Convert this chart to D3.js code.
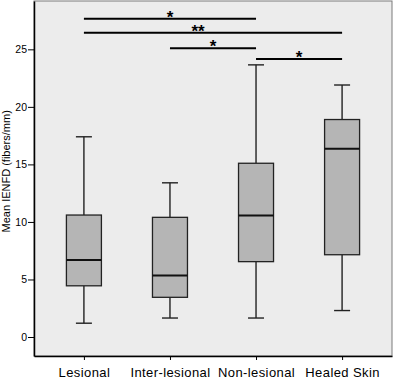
<!DOCTYPE html>
<html>
<head>
<meta charset="utf-8">
<script src="https://cdn.jsdelivr.net/npm/d3@7"></script>
<style>
  body { margin: 0; background: #fff; }
  text { font-family: "Liberation Sans", Arial, sans-serif; }
</style>
</head>
<body>
<div id="chart"></div>
<script>
// values
const groups = ["Lesional", "Inter-lesional", "Non-lesional", "Healed Skin"];
const whiskLo = [1.2, 1.65, 1.65, 2.3];
const q1 = [4.45, 3.45, 6.55, 7.15];
const median = [6.7, 5.35, 10.55, 16.35];
const q3 = [10.6, 10.4, 15.1, 18.9];
const whiskHi = [17.4, 13.4, 23.65, 21.9];
const yTicks = [0, 5, 10, 15, 20, 25];

// significance brackets: from group, to group, level, label
const sigFrom = ["Lesional", "Lesional", "Inter-lesional", "Non-lesional"];
const sigTo = ["Non-lesional", "Healed Skin", "Non-lesional", "Healed Skin"];
const sigLevel = [27.65, 26.45, 25.1, 24.15];
const sigLabel = ["*", "**", "*", "*"];

const W = 395, H = 379;
const margin = {top: 1, right: 3, bottom: 23, left: 34};
const width = W - margin.left - margin.right,
      height = H - margin.top - margin.bottom;

const svg = d3.select("#chart").append("svg")
  .attr("width", W).attr("height", H);
const g = svg.append("g")
  .attr("transform", "translate(" + margin.left + "," + margin.top + ")");

const x = d3.scalePoint().domain(groups).range([0, width]).padding(0.58);
const y = d3.scaleLinear().domain([-1.65, 29.2]).range([height, 0]);

g.append("rect")
  .attr("width", width).attr("height", height)
  .attr("fill", "#ececec")
  .attr("stroke", "#7a7a7a").attr("stroke-width", 1);

const boxData = groups.map((name, i) => ({
  name: name, lo: whiskLo[i], q1: q1[i], med: median[i], q3: q3[i], hi: whiskHi[i]
}));

const boxW = 35, capW = 16;
const box = g.selectAll(".box").data(boxData).enter().append("g")
  .attr("class", "box")
  .attr("transform", d => "translate(" + x(d.name) + ",0)");

box.append("line")
  .attr("y1", d => y(d.lo)).attr("y2", d => y(d.q1))
  .attr("stroke", "#222").attr("stroke-width", 1.4);
box.append("line")
  .attr("y1", d => y(d.q3)).attr("y2", d => y(d.hi))
  .attr("stroke", "#222").attr("stroke-width", 1.4);
box.selectAll(".cap").data(d => [d.lo, d.hi]).enter().append("line")
  .attr("x1", -capW / 2).attr("x2", capW / 2)
  .attr("y1", v => y(v)).attr("y2", v => y(v))
  .attr("stroke", "#222").attr("stroke-width", 1.4);
box.append("rect")
  .attr("x", -boxW / 2).attr("width", boxW)
  .attr("y", d => y(d.q3)).attr("height", d => y(d.q1) - y(d.q3))
  .attr("fill", "#b5b5b5").attr("stroke", "#222").attr("stroke-width", 1.3);
box.append("line")
  .attr("x1", -boxW / 2).attr("x2", boxW / 2)
  .attr("y1", d => y(d.med)).attr("y2", d => y(d.med))
  .attr("stroke", "#111").attr("stroke-width", 2);

// brackets
const sig = g.selectAll(".sig").data(sigLabel.map((s, i) => ({
  a: sigFrom[i], b: sigTo[i], v: sigLevel[i], label: s
}))).enter().append("g").attr("class", "sig");
sig.append("line")
  .attr("x1", d => x(d.a)).attr("x2", d => x(d.b))
  .attr("y1", d => y(d.v)).attr("y2", d => y(d.v))
  .attr("stroke", "#000").attr("stroke-width", 2);
sig.append("text")
  .attr("x", d => (x(d.a) + x(d.b)) / 2 - (d.label.length - 1) * 15)
  .attr("y", d => y(d.v) + 4)
  .attr("text-anchor", "middle")
  .attr("font-family", "'DejaVu Sans', sans-serif")
  .attr("font-size", 17).attr("font-weight", "bold")
  .text(d => d.label);

// axes
const yAxis = g.append("g")
  .call(d3.axisLeft(y).tickValues(yTicks).tickSize(6).tickSizeOuter(0));
yAxis.select(".domain").attr("stroke", "#000").attr("stroke-width", 1.5);
yAxis.selectAll(".tick line").attr("stroke", "#000");
yAxis.selectAll(".tick text").attr("font-size", 10.5).attr("fill", "#000")
  .attr("font-family", "'Liberation Sans', Arial, sans-serif").attr("x", -7);

const xAxis = g.append("g")
  .attr("transform", "translate(0," + height + ")")
  .call(d3.axisBottom(x).tickSize(4).tickSizeOuter(0));
xAxis.select(".domain").attr("stroke", "#000").attr("stroke-width", 1.5);
xAxis.selectAll(".tick line").attr("stroke", "#000");
xAxis.selectAll(".tick text").attr("font-size", 13).attr("fill", "#000")
  .attr("font-family", "'Liberation Sans', Arial, sans-serif")
  .attr("letter-spacing", 0.4).attr("y", 12);

svg.append("text")
  .attr("transform", "translate(10," + (margin.top + y(14.4)) + ") rotate(-90)")
  .attr("text-anchor", "middle")
  .attr("font-size", 11)
  .text("Mean IENFD (fibers/mm)");
</script>
</body>
</html>
